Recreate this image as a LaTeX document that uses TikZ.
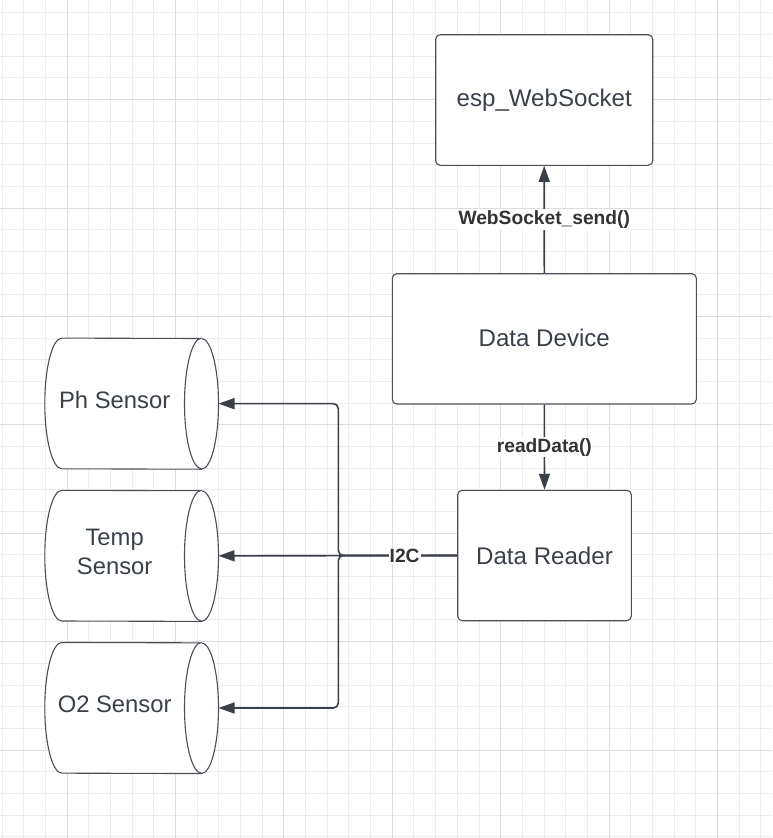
\documentclass[tikz,border=0pt]{standalone}
\usepackage{fontspec}
\setmainfont{Liberation Sans}
\usetikzlibrary{arrows.meta}
\definecolor{gridminor}{HTML}{EDEDED}
\definecolor{gridmajor}{HTML}{DDDDDD}
\definecolor{ink}{HTML}{3A4048}
\definecolor{edgec}{HTML}{4A4F57}
\definecolor{lbl}{HTML}{333333}
\newcommand{\drawcyl}[1]{%
  \draw[cyl] ([xshift=17pt]#1.north west) arc[start angle=90,end angle=270,x radius=17pt,y radius=65.35pt]
    -- ([xshift=-17pt]#1.south east) arc[start angle=-90,end angle=90,x radius=17pt,y radius=65.35pt] -- cycle;
  \draw[cyl] ([xshift=-17pt]#1.north east) arc[start angle=90,end angle=270,x radius=17pt,y radius=65.35pt];
}
\begin{document}
\begin{tikzpicture}[x=1pt,y=1pt,
  box/.style={draw=edgec, line width=1.1pt, rounded corners=4.5pt, fill=white, text=ink,
    font=\fontsize{24.1}{29}\selectfont, align=center, inner sep=0pt},
  cylbox/.style={inner sep=0pt, minimum width=173.3pt, minimum height=130.7pt},
  cyl/.style={draw=edgec, line width=1.1pt, fill=white},
  conn/.style={draw=ink, line width=1.6pt, -{Triangle[length=16pt,width=11pt]}},
  lab/.style={fill=white, text=lbl, font=\fontsize{19.2}{22}\selectfont\bfseries, inner sep=1.2pt},
  ctext/.style={text=ink, font=\fontsize{23.8}{29}\selectfont, align=center, inner sep=0pt}
]
\useasboundingbox (0,0) rectangle (772,-838);
\fill[white] (0,0) rectangle (772,-838);
% grid
\foreach \i in {0,...,35} { \draw[gridminor, line width=0.9pt] ({2+21.68*\i},0) -- ++(0,-838); }
\foreach \i in {0,...,38} { \draw[gridminor, line width=0.9pt] (0,{-12.88-21.68*\i}) -- ++(772,0); }
\foreach \i in {0,...,6} { \draw[gridmajor, line width=0.9pt] ({67.04+108.4*\i},0) -- ++(0,-838); }
\foreach \i in {0,...,6} { \draw[gridmajor, line width=0.9pt] (0,{-99.6-108.4*\i}) -- ++(772,0); }

% boxes
\node[box, minimum width=217pt, minimum height=130.6pt] (esp) at (544.2,-100) {esp\_WebSocket};
\node[box, minimum width=304pt, minimum height=130.3pt] (dev) at (544.3,-338.85) {\raisebox{1.5pt}{Data Device}};
\node[box, minimum width=173.6pt, minimum height=130.4pt] (rdr) at (544.5,-555.5) {Data Reader};

% cylinders
\node[cylbox] (ph) at (131.65,-403.65) {};
\node[cylbox] (tmp) at (131.65,-555.85) {};
\node[cylbox] (o2) at (131.65,-708) {};
\drawcyl{ph}
\drawcyl{tmp}
\drawcyl{o2}
\node[ctext] at ([xshift=-17pt,yshift=3.5pt]ph.center) {Ph Sensor};
\node[ctext] at ([xshift=-17pt,yshift=3.5pt]tmp.center) {Temp\\Sensor};
\node[ctext] at ([xshift=-17pt,yshift=3.5pt]o2.center) {O2 Sensor};

% connectors
\coordinate (bus) at (338.3,0);
\draw[conn] (dev.north) -- node[lab] {WebSocket\_send()} (esp.south);
\draw[conn] (dev.south) -- node[lab] {readData()} (rdr.north);
\draw[conn, rounded corners=5pt] (rdr.west) -- (bus |- rdr.west) -- (bus |- ph.east) -- (ph.east);
\draw[conn, rounded corners=5pt] (rdr.west) -- (bus |- rdr.west) -- (bus |- o2.east) -- (o2.east);
\draw[conn] (rdr.west) -- node[lab, pos=0.22] {I2C} (tmp.east);
\end{tikzpicture}
\end{document}
